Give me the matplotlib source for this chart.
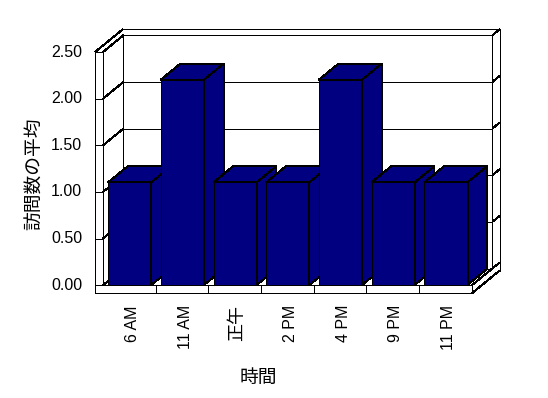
import numpy as np
import matplotlib
matplotlib.use("Agg")
import matplotlib.pyplot as plt
from matplotlib.patches import Polygon

plt.rcParams['font.family'] = ['Liberation Sans', 'Noto Sans CJK JP']

# data
categories = ['6 AM', '11 AM', '正午', '2 PM', '4 PM', '9 PM', '11 PM']
values = [1.1, 2.2, 1.1, 1.1, 2.2, 1.1, 1.1]
yticks = [0.0, 0.5, 1.0, 1.5, 2.0, 2.5]
ylabel = '訪問数の平均'
xlabel = '時間'

W, H = 548, 398
# pixel mapping of the front plane
X0, CW = 129.3, 52.7     # px of category 0, px per category
Y0, UH = 285.3, 93.3     # px of value 0, px per unit
DX, DY = 20.5 / CW, 16.8 / UH   # depth offset (data units) for full depth
LW = 0.72

fig = plt.figure(figsize=(W / 100, H / 100), dpi=100)
ax = fig.add_axes([0, 0, 1, 1])
ax.set_xlim(-X0 / CW, (W - X0) / CW)
ax.set_ylim((Y0 - H) / UH, Y0 / UH)
ax.axis('off')


def P(x, y, t):
    return (x + t * DX, y + t * DY)


def line(a, b):
    ax.plot([a[0], b[0]], [a[1], b[1]], color='black', lw=LW,
            solid_capstyle='butt', antialiased=False, zorder=1)


def face(pts, fc, z):
    ax.add_patch(Polygon(pts, closed=True, fc=fc, ec='black', lw=LW,
                         antialiased=False, zorder=z))


n = len(categories)
xl, xr = -0.5, n - 0.5
wall = 0.15        # left wall thickness
fl = 0.086         # floor thickness
back = 1.35        # depth incl. back wall thickness
top = yticks[-1]

# floor front face
face([P(xl - wall, -fl, 0), P(xr, -fl, 0), P(xr, 0, 0), P(xl - wall, 0, 0)], 'white', 1)
for k in range(1, n):
    line(P(xl + k, -fl, 0), P(xl + k, 0, 0))
# left wall front face
face([P(xl - wall, 0, 0), P(xl, 0, 0), P(xl, top, 0), P(xl - wall, top, 0)], 'white', 1)
# wall / floor edges
line(P(xl - wall, top, 0), P(xl - wall, top, back))
line(P(xl - wall, top, back), P(xr, top, back))
line(P(xr, top, 1), P(xr, top, back))
line(P(xr, top, back), P(xr, -fl, back))
line(P(xr, top, 1), P(xr, 0, 1))
line(P(xr, 0, 0), P(xr, 0, 1))
line(P(xr, -fl, 0), P(xr, -fl, back))
line(P(xl, 0, 1), P(xl, top, 1))
line(P(xl, 0, 0), P(xl, 0, 1))
line(P(xl, 0, 1), P(xr, 0, 1))
# gridlines
for v in yticks:
    line(P(xl - wall, v, 0), P(xl, v, 0))
    line(P(xl, v, 0), P(xl, v, 1))
    line(P(xl, v, 1), P(xr, v, 1))
    line(P(xr, v, 1), P(xr, v, back))

# bars
bw, t0, t1 = 0.82, 0.02, 0.98
navy = '#000080'
for i, v in enumerate(values):
    a, b = i - bw / 2, i + bw / 2
    face([P(a, 0, t0), P(b, 0, t0), P(b, v, t0), P(a, v, t0)], navy, 2)
    face([P(a, v, t0), P(b, v, t0), P(b, v, t1), P(a, v, t1)], navy, 2)
    face([P(b, 0, t0), P(b, 0, t1), P(b, v, t1), P(b, v, t0)], navy, 2)

# tick labels
for v in yticks:
    ax.text((82 - X0) / CW, v, f'{v:.2f}', ha='right', va='center',
            fontsize=11.5, color='black')
for i, c in enumerate(categories):
    fs = 11.5 if c.isascii() else 13
    ax.text(i + 0.06, (Y0 - 305) / UH, c, rotation=90, ha='center', va='top',
            fontsize=fs, color='black')

fig.text(35 / W, 1 - 174 / H, ylabel, rotation=90, ha='center', va='center', fontsize=13.5)
fig.text(258 / W, 1 - 378 / H, xlabel, ha='center', va='center', fontsize=13.5)

fig.savefig('out.png', dpi=100, facecolor='white')
